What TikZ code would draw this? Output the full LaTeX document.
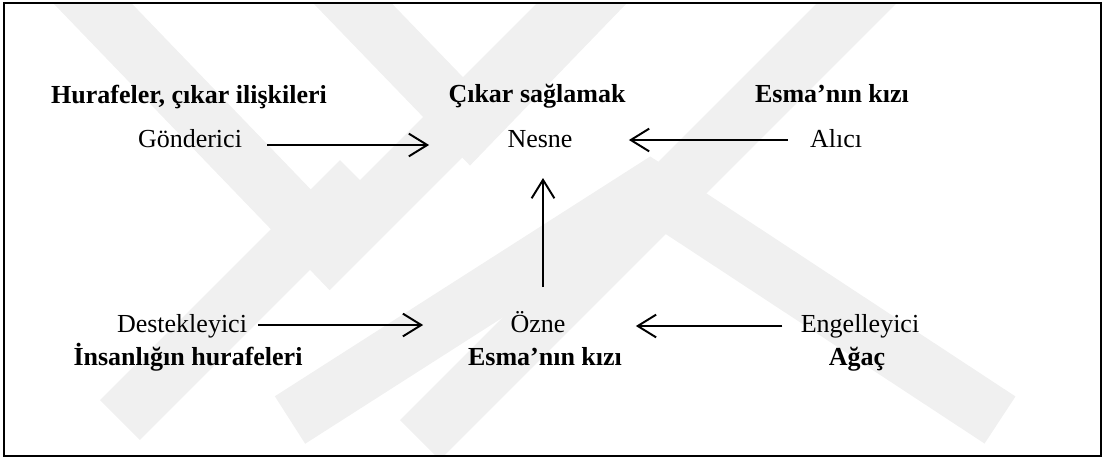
\documentclass[tikz,border=0pt]{standalone}
\usepackage{fontspec}
\setmainfont{Liberation Serif}
\usetikzlibrary{arrows.meta}
\begin{document}
\begin{tikzpicture}[x=0.4615pt,y=-0.4615pt,
  lbl/.style={anchor=base,inner sep=0pt,font=\fontsize{12}{14}\selectfont},
  blbl/.style={lbl,font=\fontsize{12}{14}\selectfont\bfseries},
  arr/.style={line width=0.9pt,-{Straight Barb[length=8.5pt,width=10.5pt,line width=0.9pt]}},
  wm/.style={line width=26pt,draw=black!6,line join=miter}]
\useasboundingbox (0,0) rectangle (1106,459);
% watermark
\begin{scope}
\clip (4,3) rectangle (1101,456);
\draw[wm] (70,-20) -- (330,250) -- (600,-20);
\draw[wm] (330,-20) -- (470,125) -- (610,-20);
\draw[wm] (880,-20) -- (420,440);
\draw[wm] (290,420) -- (650,190) -- (1000,420);
\draw[wm] (120,420) -- (360,180);
\end{scope}
\draw[line width=1pt] (4,3) rectangle (1101,456);
% nodes
\node[blbl] (hur) at (189,103) {Hurafeler, çıkar ilişkileri};
\node[lbl]  (gon) at (190,147) {Gönderici};
\node[blbl] (cik) at (537,102) {Çıkar sağlamak};
\node[lbl]  (nes) at (540,147) {Nesne};
\node[blbl] (esa) at (832,102) {Esma’nın kızı};
\node[lbl]  (ali) at (836,147) {Alıcı};
\node[lbl]  (des) at (182,332) {Destekleyici};
\node[blbl] (ins) at (188,365) {İnsanlığın hurafeleri};
\node[lbl]  (ozn) at (538,332) {Özne};
\node[blbl] (esb) at (545,365) {Esma’nın kızı};
\node[lbl]  (eng) at (860,332) {Engelleyici};
\node[blbl] (aga) at (857,365) {Ağaç};
% connectors
\draw[arr] ([shift={(25,-2)}]gon.base east) -- ([shift={(-78,-2)}]nes.base west);
\draw[arr] ([shift={(-22,-7)}]ali.base west) -- ([shift={(56,-7)}]nes.base east);
\draw[arr] ([shift={(11,-7)}]des.base east) -- ([shift={(-87,-7)}]ozn.base west);
\draw[arr] ([shift={(-18,-6)}]eng.base west) -- ([shift={(70,-6)}]ozn.base east);
\draw[arr] ([shift={(5,-45)}]ozn.base) -- ([shift={(3,31)}]nes.base);
\end{tikzpicture}
\end{document}
